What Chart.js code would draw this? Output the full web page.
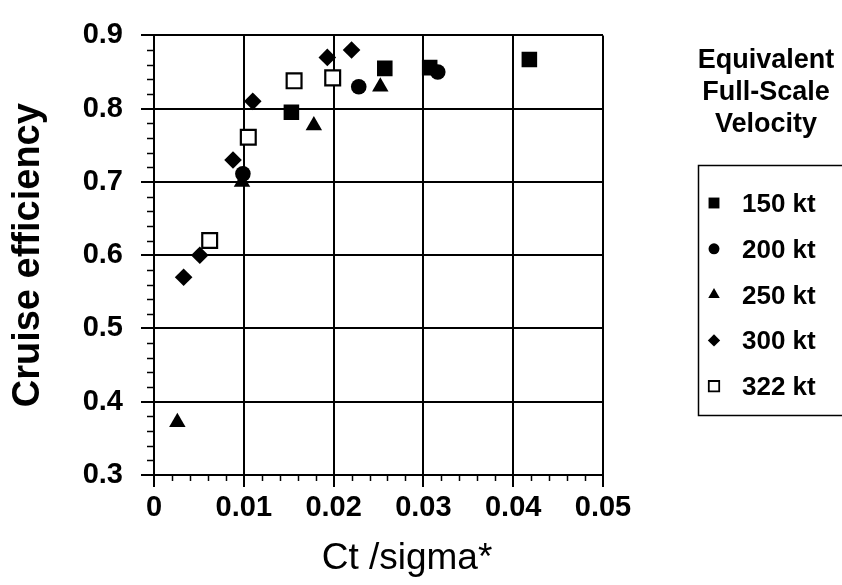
<!DOCTYPE html>
<html>
<head>
<meta charset="utf-8">
<script src="https://cdn.jsdelivr.net/npm/chart.js@4/dist/chart.umd.min.js"></script>
<style>
html,body{margin:0;padding:0;background:#fff;}
#wrap{width:842px;height:585px;position:relative;}
</style>
</head>
<body>
<div id="wrap"><canvas id="c" width="842" height="585"></canvas></div>
<script>
// ---- data ----
const seriesLabels = ['150 kt', '200 kt', '250 kt', '300 kt', '322 kt'];
const x150 = [0.0153, 0.0257, 0.0307, 0.0418];
const y150 = [0.795, 0.855, 0.856, 0.867];
const x200 = [0.0099, 0.0228, 0.0316];
const y200 = [0.711, 0.830, 0.850];
const x250 = [0.0026, 0.0098, 0.0178, 0.0252];
const y250 = [0.372, 0.700, 0.777, 0.830];
const x300 = [0.0033, 0.0051, 0.0088, 0.0110, 0.0193, 0.0220];
const y300 = [0.570, 0.600, 0.730, 0.810, 0.870, 0.880];
const x322 = [0.0062, 0.0105, 0.0156, 0.0199];
const y322 = [0.620, 0.761, 0.838, 0.842];
const xTickValues = [0, 0.01, 0.02, 0.03, 0.04, 0.05];
const xTickLabels = ['0', '0.01', '0.02', '0.03', '0.04', '0.05'];
const yTickValues = [0.3, 0.4, 0.5, 0.6, 0.7, 0.8, 0.9];
const yTickLabels = ['0.3', '0.4', '0.5', '0.6', '0.7', '0.8', '0.9'];
const xTitle = 'Ct /sigma*';
const yTitle = 'Cruise efficiency';
const legendTitle = ['Equivalent', 'Full-Scale', 'Velocity'];

const FONT = "'Liberation Sans', Arial, Helvetica, sans-serif";

function pts(xs, ys) { return xs.map((x, i) => ({x: x, y: ys[i]})); }

const styles = [
  {pointStyle: 'rect', radius: 11, bg: '#000', bw: 0},
  {pointStyle: 'circle', radius: 7.8, bg: '#000', bw: 0},
  {pointStyle: 'triangle', radius: 9.5, bg: '#000', bw: 0},
  {pointStyle: 'rectRot', radius: 8.8, bg: '#000', bw: 0},
  {pointStyle: 'rect', radius: 10.5, bg: '#fff', bw: 2.2}
];
const dataPairs = [[x150, y150], [x200, y200], [x250, y250], [x300, y300], [x322, y322]];

const datasets = dataPairs.map((p, i) => ({
  label: seriesLabels[i],
  data: pts(p[0], p[1]),
  pointStyle: styles[i].pointStyle,
  pointRadius: styles[i].radius,
  pointHoverRadius: styles[i].radius,
  pointBackgroundColor: styles[i].bg,
  pointBorderColor: '#000',
  pointBorderWidth: styles[i].bw,
  showLine: false
}));

function drawMarker(ctx, style, r, x, y, bg, bw) {
  ctx.save();
  ctx.fillStyle = bg; ctx.strokeStyle = '#000'; ctx.lineWidth = bw;
  ctx.beginPath();
  if (style === 'rect') {
    const s = r * Math.SQRT1_2;
    ctx.rect(x - s, y - s, 2 * s, 2 * s);
  } else if (style === 'circle') {
    ctx.arc(x, y, r, 0, Math.PI * 2);
  } else if (style === 'triangle') {
    ctx.moveTo(x, y - r);
    ctx.lineTo(x + r * Math.sin(Math.PI / 3), y + r / 2);
    ctx.lineTo(x - r * Math.sin(Math.PI / 3), y + r / 2);
    ctx.closePath();
  } else if (style === 'rectRot') {
    ctx.moveTo(x, y - r); ctx.lineTo(x + r, y); ctx.lineTo(x, y + r); ctx.lineTo(x - r, y); ctx.closePath();
  }
  ctx.fill();
  if (bw > 0) ctx.stroke();
  ctx.restore();
}

const minorTicks = {
  id: 'minorTicks',
  afterDatasetsDraw(chart) {
    const ctx = chart.ctx, xs = chart.scales.x, ys = chart.scales.y;
    ctx.save();
    ctx.strokeStyle = '#000'; ctx.lineWidth = 1.5;
    ctx.beginPath();
    for (let k = 1; k < 25; k++) {
      if (k % 5 === 0) continue;
      const px = Math.round(xs.getPixelForValue(k * 0.002)) + 0.5;
      ctx.moveTo(px, ys.bottom); ctx.lineTo(px, ys.bottom + 6);
    }
    for (let k = 1; k < 30; k++) {
      if (k % 5 === 0) continue;
      const py = Math.round(ys.getPixelForValue(0.3 + k * 0.02)) + 0.5;
      ctx.moveTo(xs.left - 7, py); ctx.lineTo(xs.left, py);
    }
    ctx.stroke();
    // x axis title, placed as in the reference (slightly right of centre)
    ctx.fillStyle = '#000';
    ctx.font = '37px ' + FONT;
    ctx.textAlign = 'center';
    ctx.textBaseline = 'alphabetic';
    ctx.fillText(xTitle, 407, 569);
    ctx.restore();
  }
};

const boxLegend = {
  id: 'boxLegend',
  afterDraw(chart) {
    const ctx = chart.ctx;
    ctx.save();
    ctx.fillStyle = '#000';
    ctx.textAlign = 'center';
    ctx.textBaseline = 'alphabetic';
    ctx.font = 'bold 27px ' + FONT;
    legendTitle.forEach((t, i) => ctx.fillText(t, 766, 68 + i * 32));
    ctx.strokeStyle = '#000'; ctx.lineWidth = 1.5;
    ctx.beginPath();
    ctx.moveTo(842, 165.5); ctx.lineTo(698.5, 165.5); ctx.lineTo(698.5, 415.5); ctx.lineTo(842, 415.5);
    ctx.stroke();
    ctx.textAlign = 'left';
    ctx.font = 'bold 26px ' + FONT;
    chart.data.datasets.forEach((ds, i) => {
      const yb = 212 + i * 45.8;
      const st = styles[i];
      const scale = 0.7;
      drawMarker(ctx, st.pointStyle, st.radius * scale, 714, yb - 9, st.bg, st.bw > 0 ? 1.8 : 0);
      ctx.fillStyle = '#000';
      ctx.fillText(ds.label, 742, yb);
    });
    ctx.restore();
  }
};

new Chart(document.getElementById('c'), {
  type: 'scatter',
  data: {datasets: datasets},
  options: {
    responsive: false,
    animation: false,
    events: [],
    layout: {padding: {left: 0, right: 239, top: 28, bottom: 0}},
    plugins: {legend: {display: false}, tooltip: {enabled: false}},
    scales: {
      x: {
        type: 'linear', min: 0, max: 0.05,
        afterBuildTicks(s) { s.ticks = xTickValues.map(v => ({value: v})); },
        afterFit(s) { s.height = 110; },
        grid: {color: '#000', lineWidth: 2, tickLength: 12, tickColor: '#000', tickWidth: 2},
        border: {color: '#000', width: 2},
        ticks: {
          color: '#000', padding: 4, maxRotation: 0,
          font: {family: FONT, size: 29, weight: 'bold'},
          callback: (v, i) => xTickLabels[i]
        },
        title: {display: false, text: xTitle}
      },
      y: {
        type: 'linear', min: 0.3, max: 0.9,
        afterBuildTicks(s) { s.ticks = yTickValues.map(v => ({value: v})); },
        afterFit(s) { s.width = 154; },
        grid: {color: '#000', lineWidth: 2, tickLength: 13, tickColor: '#000', tickWidth: 2},
        border: {color: '#000', width: 2},
        ticks: {
          color: '#000', padding: 18,
          font: {family: FONT, size: 29, weight: 'bold'},
          callback: (v, i) => yTickLabels[i]
        },
        title: {display: true, text: yTitle, color: '#000', padding: {top: 10, bottom: 0},
          font: {family: FONT, size: 38, weight: 'bold', lineHeight: 1}}
      }
    }
  },
  plugins: [minorTicks, boxLegend]
});
</script>
</body>
</html>
